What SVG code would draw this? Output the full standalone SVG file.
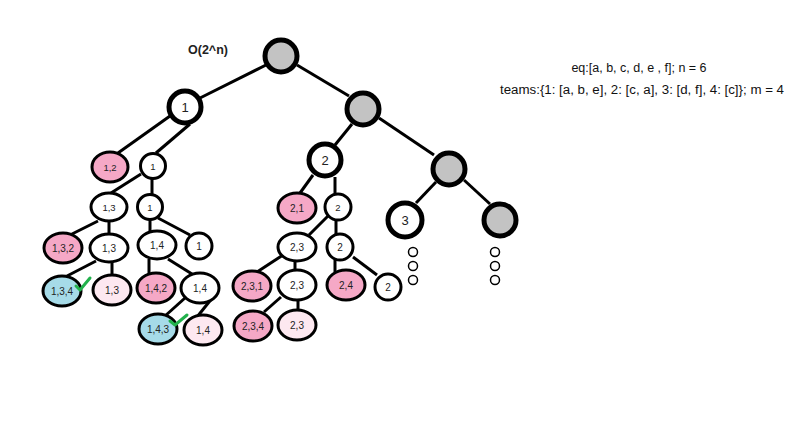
<svg xmlns="http://www.w3.org/2000/svg" width="800" height="444" viewBox="0 0 800 444">
<style>
.big{stroke:#000;stroke-width:5}
.sm{stroke:#000;stroke-width:3}
.g{fill:#c3c3c3}
.w{fill:#fff}
.p{fill:#f5a8c6}
.lp{fill:#fde8f0}
.b{fill:#a6dbe8}
.dot{fill:#fff;stroke:#000;stroke-width:1.5}
.ln{stroke:#000;stroke-width:3;fill:none}
.chk{stroke:#22b14c;stroke-width:3;fill:none;stroke-linecap:round;stroke-linejoin:round}
text{font-family:"Liberation Sans",Arial,sans-serif;fill:#222;text-anchor:middle;dominant-baseline:central}
.t13{font-size:13px}
.t10{font-size:10px}
.t9{font-size:9.5px}
.info{font-size:12.5px;fill:#111}
</style>
<rect width="800" height="444" fill="#fff"/>
<g id="connectors">
<line class="ln" x1="268" y1="64" x2="200" y2="98"/>
<line class="ln" x1="297" y1="65" x2="349" y2="96"/>
<line class="ln" x1="170" y1="116" x2="118" y2="153"/>
<line class="ln" x1="190" y1="124" x2="156" y2="153"/>
<line class="ln" x1="352" y1="124" x2="335" y2="145"/>
<line class="ln" x1="379" y1="118" x2="434" y2="155"/>
<line class="ln" x1="141" y1="174" x2="111" y2="193"/>
<line class="ln" x1="152" y1="179" x2="152" y2="194"/>
<line class="ln" x1="98" y1="221" x2="70" y2="235"/>
<line class="ln" x1="109" y1="221" x2="109" y2="234"/>
<line class="ln" x1="150" y1="220" x2="150" y2="232"/>
<line class="ln" x1="158" y1="218" x2="190" y2="235"/>
<line class="ln" x1="96" y1="261" x2="67" y2="276"/>
<line class="ln" x1="112" y1="262" x2="112" y2="275"/>
<line class="ln" x1="149" y1="259" x2="149" y2="274"/>
<line class="ln" x1="168" y1="259" x2="192" y2="274"/>
<line class="ln" x1="185" y1="298" x2="165" y2="316"/>
<line class="ln" x1="213" y1="297" x2="197" y2="317"/>
<line class="ln" x1="313" y1="175" x2="300" y2="193"/>
<line class="ln" x1="335" y1="177" x2="335" y2="194"/>
<line class="ln" x1="328" y1="216" x2="309" y2="235"/>
<line class="ln" x1="336" y1="220" x2="336" y2="234"/>
<line class="ln" x1="283" y1="255" x2="257" y2="272"/>
<line class="ln" x1="295" y1="261" x2="295" y2="271"/>
<line class="ln" x1="335" y1="260" x2="335" y2="272"/>
<line class="ln" x1="353" y1="257" x2="377" y2="275"/>
<line class="ln" x1="281" y1="297" x2="264" y2="312"/>
<line class="ln" x1="298" y1="299" x2="298" y2="311"/>
<line class="ln" x1="436" y1="182" x2="416" y2="203"/>
<line class="ln" x1="464" y1="180" x2="490" y2="204"/>
</g>
<g id="root"><circle class="big g" cx="281" cy="56" r="16"/></g>
<g id="n1"><circle class="big w" cx="185" cy="107" r="16"/><text class="t13" x="185" y="107">1</text></g>
<g id="g2"><circle class="big g" cx="363" cy="109" r="16"/></g>
<g id="n2"><circle class="big w" cx="325" cy="160" r="16"/><text class="t13" x="325" y="160">2</text></g>
<g id="g3"><circle class="big g" cx="449" cy="169" r="16"/></g>
<g id="n3"><circle class="big w" cx="405" cy="220" r="17"/><text class="t13" x="405" y="220">3</text></g>
<g id="g4"><circle class="big g" cx="500" cy="220" r="16"/></g>
<g id="dots3"><circle class="dot" cx="413" cy="252" r="4.5"/><circle class="dot" cx="413" cy="266" r="4.5"/><circle class="dot" cx="413" cy="280" r="4.5"/></g>
<g id="dots4"><circle class="dot" cx="495" cy="252" r="4.5"/><circle class="dot" cx="495" cy="266" r="4.5"/><circle class="dot" cx="495" cy="280" r="4.5"/></g>

<g id="n12"><ellipse class="sm p" cx="110" cy="167" rx="18" ry="15"/><text class="t9" x="110" y="167">1,2</text></g>
<g id="n1b"><circle class="sm w" cx="153" cy="166" r="12.5"/><text class="t9" x="153" y="166">1</text></g>
<g id="n13"><ellipse class="sm w" cx="109" cy="207" rx="18" ry="14"/><text class="t9" x="109" y="207">1,3</text></g>
<g id="n1c"><circle class="sm w" cx="150" cy="207" r="12.5"/><text class="t9" x="150" y="207">1</text></g>
<g id="n132"><ellipse class="sm p" cx="63" cy="248" rx="19" ry="15"/><text class="t10" x="63" y="248">1,3,2</text></g>
<g id="n13b"><ellipse class="sm w" cx="109" cy="248" rx="19" ry="14"/><text class="t10" x="109" y="248">1,3</text></g>
<g id="n14"><ellipse class="sm w" cx="157" cy="245" rx="19" ry="14"/><text class="t10" x="157" y="245">1,4</text></g>
<g id="n1d"><circle class="sm w" cx="199" cy="246" r="13"/><text class="t10" x="199" y="246">1</text></g>
<g id="n134"><ellipse class="sm b" cx="62" cy="291" rx="19" ry="15"/><text class="t10" x="62" y="291">1,3,4</text></g>
<g id="n13c"><ellipse class="sm lp" cx="112" cy="290" rx="19" ry="15"/><text class="t10" x="112" y="290">1,3</text></g>
<g id="n142"><ellipse class="sm p" cx="156" cy="288" rx="19" ry="15"/><text class="t10" x="156" y="288">1,4,2</text></g>
<g id="n14b"><ellipse class="sm w" cx="200" cy="288" rx="19" ry="15"/><text class="t10" x="200" y="288">1,4</text></g>
<g id="n143"><ellipse class="sm b" cx="158" cy="329" rx="19" ry="15"/><text class="t10" x="158" y="329">1,4,3</text></g>
<g id="n14c"><ellipse class="sm lp" cx="203" cy="330" rx="19" ry="15"/><text class="t10" x="203" y="330">1,4</text></g>

<g id="n21"><ellipse class="sm p" cx="297" cy="208" rx="19" ry="15"/><text class="t10" x="297" y="208">2,1</text></g>
<g id="n2b"><circle class="sm w" cx="338" cy="207" r="13"/><text class="t9" x="338" y="207">2</text></g>
<g id="n23"><ellipse class="sm w" cx="297" cy="247" rx="19" ry="14"/><text class="t10" x="297" y="247">2,3</text></g>
<g id="n2c"><circle class="sm w" cx="340" cy="247" r="13"/><text class="t10" x="340" y="247">2</text></g>
<g id="n231"><ellipse class="sm p" cx="252" cy="286" rx="19" ry="15"/><text class="t10" x="252" y="286">2,3,1</text></g>
<g id="n23b"><ellipse class="sm w" cx="297" cy="285" rx="19" ry="15"/><text class="t10" x="297" y="285">2,3</text></g>
<g id="n24"><ellipse class="sm p" cx="346" cy="285" rx="19" ry="15"/><text class="t10" x="346" y="285">2,4</text></g>
<g id="n2d"><circle class="sm w" cx="388" cy="287" r="13"/><text class="t10" x="388" y="287">2</text></g>
<g id="n234"><ellipse class="sm p" cx="253" cy="326" rx="19" ry="15"/><text class="t10" x="253" y="326">2,3,4</text></g>
<g id="n23c"><ellipse class="sm lp" cx="297" cy="325" rx="19" ry="15"/><text class="t10" x="297" y="325">2,3</text></g>

<g id="checks">
<polyline class="chk" points="76,286 80,290 90,278"/>
<polyline class="chk" points="170,321 175,325 187,315"/>
</g>
<g id="labels">
<text x="208" y="50" style="font-size:12.5px;font-weight:bold" fill="#222">O(2^n)</text>
<text class="info" x="639" y="68">eq:[a, b, c, d, e , f]; n = 6</text>
<text class="info" x="642" y="90" textLength="284" lengthAdjust="spacingAndGlyphs">teams:{1: [a, b, e], 2: [c, a], 3: [d, f], 4: [c]}; m = 4</text>
</g>
</svg>
